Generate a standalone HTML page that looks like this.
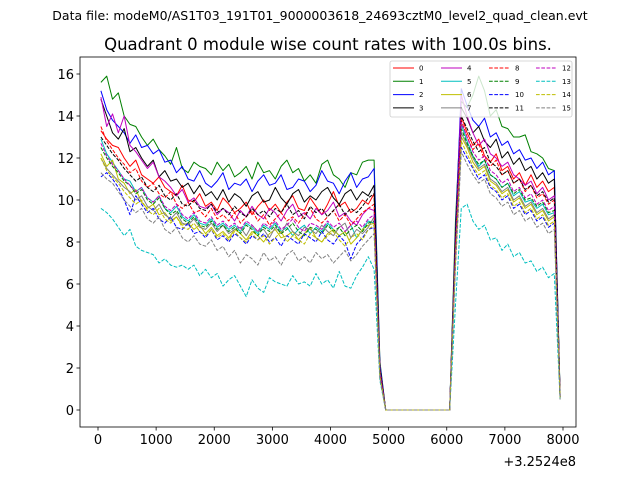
<!DOCTYPE html>
<html><head><meta charset="utf-8"><style>
body{margin:0;background:#fff;}
svg{display:block;font-family:"DejaVu Sans","Liberation Sans",sans-serif;}
</style></head><body>
<svg id="chart" width="640" height="480" viewBox="0 0 640 480">
<rect width="640" height="480" fill="#fff"/>
<text x="320" y="20" text-anchor="middle" font-size="12.5">Data file: modeM0/AS1T03_191T01_9000003618_24693cztM0_level2_quad_clean.evt</text>
<text x="328" y="50" text-anchor="middle" font-size="16.5">Quadrant 0 module wise count rates with 100.0s bins.</text>
<g id="plot"></g>
</svg>
<script>
const xTicks=[0,1000,2000,3000,4000,5000,6000,7000,8000];
const yTicks=[0,2,4,6,8,10,12,14,16];
const seriesNames=["0","1","2","3","4","5","6","7","8","9","10","11","12","13","14","15"];
const seriesColors=["#ff0000","#008000","#0000ff","#000000","#bf00bf","#00bfbf","#bfbf00","#808080","#ff0000","#008000","#0000ff","#000000","#bf00bf","#00bfbf","#bfbf00","#808080"];
const gapValues=[0,0,0,0,0,0,0,0,0,0,0,0];
const s0a=[13.3,12.9,12.6,12.5,12.0,11.6,11.9,11.2,11.0,10.8,11.1,10.6,10.4,10.2,10.7,10.0,9.9,10.3,9.7,9.9,9.5,10.1,9.8,9.4,9.6,9.9,9.3,9.7,10.0,9.5,9.8,9.4,9.9,10.2,9.6,9.5,10.1,9.7,9.3,9.8,10.4,9.7,9.9,9.4,9.6,10.0,9.8,10.3];
const s0b=[2.0,8.0,14.0,13.2,12.6,12.9,12.1,11.8,12.2,11.4,11.6,11.0,11.3,10.7,11.2,10.6,10.9,10.4,10.6,0.7];
const s1a=[15.6,15.9,14.8,15.1,14.0,13.6,13.5,13.0,12.6,12.9,12.4,12.1,11.7,12.5,11.5,11.3,11.8,11.6,11.5,11.2,11.8,11.4,11.7,11.1,11.3,11.6,11.0,11.8,11.3,11.4,11.0,11.6,11.9,11.3,11.5,10.9,11.2,10.8,11.7,11.9,11.2,11.0,10.6,11.3,11.2,11.8,11.9,11.9];
const s1b=[2.3,9.0,14.7,14.4,15.0,15.9,15.2,14.0,14.3,13.5,13.4,13.0,13.0,13.1,12.3,12.2,12.0,11.5,11.4,0.8];
const s2a=[15.2,14.3,13.8,13.5,13.2,12.7,13.1,12.5,12.6,12.2,12.4,11.8,11.9,11.3,11.6,11.0,10.9,11.4,10.8,10.6,10.9,11.3,10.5,10.8,10.7,11.0,10.4,10.9,11.2,10.7,10.8,11.2,10.5,10.6,11.0,10.9,10.4,10.7,11.4,10.9,10.8,10.3,10.9,11.3,10.6,11.0,11.1,11.5];
const s2b=[2.2,8.5,15.3,14.5,13.8,13.5,13.9,13.0,13.2,12.6,12.8,12.2,12.4,11.9,12.0,11.5,11.8,11.2,11.4,0.7];
const s3a=[14.8,14.0,13.2,12.9,13.4,12.3,12.5,12.0,11.6,11.9,11.1,11.4,10.9,11.0,10.6,10.8,10.3,10.7,10.2,10.4,10.0,10.5,9.9,10.3,10.1,9.7,10.2,10.4,9.9,10.0,10.6,10.1,9.8,10.3,10.5,9.9,10.2,10.0,10.4,10.6,10.1,9.8,10.3,10.5,10.0,10.4,10.2,10.7];
const s3b=[2.0,8.3,14.4,13.9,13.2,13.5,12.8,12.5,12.9,12.0,12.3,11.7,12.0,11.4,11.6,11.0,11.3,10.8,11.0,0.7];
const s4a=[14.9,13.5,14.1,13.2,14.0,12.6,12.3,11.9,11.5,11.8,11.1,10.9,10.6,10.2,10.5,9.9,10.1,9.7,9.6,9.8,9.3,9.6,9.4,9.0,9.5,9.2,9.7,9.3,9.1,9.6,9.4,9.0,9.5,9.8,9.2,9.4,9.1,9.6,9.3,9.5,9.9,9.2,9.4,9.0,8.8,9.3,9.6,9.5];
const s4b=[1.9,7.8,15.0,14.0,13.2,12.6,12.9,12.2,12.0,11.6,11.8,11.2,11.0,10.7,10.9,10.3,10.6,10.0,10.2,0.6];
const s5a=[12.9,12.2,11.8,11.4,11.0,10.9,10.4,10.6,10.1,9.9,10.2,9.6,9.4,9.7,9.2,9.0,9.3,8.9,8.8,9.1,8.7,8.9,8.6,8.8,8.5,8.9,8.7,8.4,8.8,8.6,8.9,8.5,8.7,8.3,8.6,8.8,8.4,8.7,8.5,8.9,8.6,8.3,8.5,8.8,8.2,8.6,9.0,8.9];
const s5b=[1.7,7.5,13.6,12.8,12.1,11.6,11.9,11.2,11.0,10.6,10.8,10.2,10.4,9.9,10.0,9.6,9.8,9.3,9.4,0.6];
const s6a=[12.2,11.6,11.9,11.0,10.8,10.3,10.5,9.9,9.6,9.8,9.3,9.4,9.0,9.2,8.8,8.9,8.6,8.8,8.4,8.7,8.3,8.5,8.2,8.6,8.4,8.1,8.5,8.3,8.0,8.4,8.6,8.2,8.3,8.5,8.1,8.4,8.7,8.2,8.0,8.4,8.6,8.3,8.5,7.9,8.2,8.6,8.8,8.9];
const s6b=[1.7,7.2,13.0,12.5,11.8,11.4,11.6,10.9,10.7,10.3,10.5,9.9,10.1,9.6,9.8,9.3,9.5,9.0,9.2,0.6];
const s7a=[12.0,11.5,11.2,10.9,10.6,10.4,10.0,10.2,9.7,9.5,9.8,9.3,9.1,9.4,8.9,8.8,9.1,8.7,8.6,8.9,8.5,8.8,8.4,8.6,8.7,8.3,8.8,8.5,8.6,8.2,8.7,8.4,8.9,8.5,8.3,8.7,8.6,8.4,8.8,8.5,8.3,8.7,8.9,8.2,8.6,8.4,8.7,9.2];
const s7b=[1.8,7.4,13.2,12.6,12.0,11.5,11.7,11.0,10.8,10.4,10.6,10.0,10.2,9.7,9.9,9.4,9.6,9.1,9.3,0.6];
const s8a=[13.5,12.8,12.4,12.0,11.7,11.3,11.5,10.9,10.6,10.8,10.3,10.1,10.4,9.8,9.6,9.9,9.4,9.5,9.2,9.6,9.1,9.3,9.0,9.4,8.9,9.2,9.5,9.0,9.3,8.8,9.1,9.4,9.0,9.2,8.9,9.3,9.6,9.1,8.9,9.2,9.5,9.0,9.3,8.8,9.1,9.4,9.6,9.8];
const s8b=[1.9,7.7,13.8,13.0,12.4,12.7,11.9,11.6,11.9,11.2,11.4,10.8,11.0,10.4,10.7,10.1,10.3,9.8,10.0,0.6];
const s9a=[12.5,12.0,11.6,11.3,10.9,10.7,10.3,10.5,10.0,9.8,10.1,9.6,9.3,9.5,9.1,8.9,9.2,8.8,8.7,9.0,8.6,8.8,8.5,8.7,8.4,8.8,8.6,8.3,8.7,8.5,8.8,8.4,8.6,8.9,8.5,8.3,8.7,8.6,8.4,8.8,8.5,8.7,8.3,8.6,8.8,8.5,8.9,9.0];
const s9b=[1.8,7.5,13.4,12.7,12.1,11.7,11.9,11.2,11.0,10.6,10.8,10.3,10.5,10.0,10.1,9.7,9.9,9.4,9.5,0.6];
const s10a=[11.1,11.3,11.0,10.6,10.0,9.3,10.2,9.8,9.4,9.6,9.1,8.9,9.2,8.7,8.6,8.9,8.4,8.5,8.2,8.6,8.1,8.3,8.0,8.4,8.2,7.9,8.3,8.1,8.4,8.0,8.2,7.8,8.3,8.1,7.9,8.4,8.2,8.0,8.5,8.1,7.9,8.3,8.0,7.2,7.9,8.2,8.6,8.7];
const s10b=[1.6,7.0,12.5,12.0,11.5,11.0,11.2,10.6,10.4,10.0,10.2,9.6,9.8,9.3,9.5,9.0,9.2,8.7,8.9,0.6];
const s11a=[13.0,12.6,12.2,11.9,11.5,11.2,10.9,11.1,10.6,10.4,10.7,10.2,10.0,10.3,9.8,9.7,10.0,9.6,9.5,9.8,9.4,9.6,9.3,9.7,9.4,9.2,9.6,9.3,9.5,9.2,9.6,9.4,9.8,9.3,9.5,9.1,9.7,9.4,9.6,9.2,9.5,9.8,9.3,9.6,9.4,9.7,10.1,10.3];
const s11b=[2.0,8.0,14.0,13.4,12.8,12.3,12.5,11.8,11.6,11.2,11.4,10.8,11.0,10.5,10.7,10.2,10.4,9.9,10.1,0.6];
const s12a=[12.7,12.1,11.7,11.4,11.0,10.7,10.4,10.6,10.1,9.9,10.2,9.7,9.5,9.8,9.3,9.1,9.4,9.0,8.9,9.2,8.8,9.0,8.7,8.9,8.6,9.0,8.8,8.5,8.9,8.7,9.0,8.6,8.8,9.1,8.7,8.5,8.9,8.8,8.6,9.0,8.7,8.9,8.5,8.8,9.0,8.7,9.1,9.3];
const s12b=[1.8,7.6,13.7,13.0,12.3,11.9,12.1,11.4,11.2,10.8,11.0,10.4,10.6,10.1,10.3,9.8,10.0,9.5,9.7,0.6];
const s13a=[9.6,9.4,9.1,8.7,8.3,8.6,7.8,7.6,7.5,7.4,7.0,7.2,6.9,6.8,6.9,6.7,6.9,6.4,6.7,6.3,6.5,5.9,6.2,6.4,5.9,5.4,6.2,5.8,5.6,6.3,6.1,6.0,5.9,6.4,6.0,6.1,5.9,6.5,6.0,6.2,5.8,6.6,5.9,5.8,6.4,6.8,7.3,6.7];
const s13b=[1.4,5.0,9.6,9.8,9.0,8.6,8.8,8.1,8.2,7.6,7.9,7.3,7.5,7.0,7.1,6.6,6.8,6.3,6.5,0.5];
const s14a=[12.0,11.4,11.1,10.8,10.4,10.1,9.8,10.0,9.5,9.3,9.6,9.1,8.9,9.2,8.7,8.6,8.9,8.5,8.3,8.6,8.2,8.4,8.1,8.5,8.2,8.0,8.4,8.1,8.3,7.9,8.2,8.5,8.0,8.3,8.1,7.9,8.4,8.2,8.0,8.3,8.5,8.1,7.8,8.2,8.4,8.1,8.6,8.8];
const s14b=[1.6,7.1,12.8,12.2,11.6,11.2,11.4,10.7,10.5,10.1,10.3,9.7,9.9,9.4,9.6,9.1,9.3,8.8,9.0,0.6];
const s15a=[11.3,11.0,10.8,10.4,10.0,9.7,9.4,9.6,9.1,8.9,9.2,8.6,8.4,8.7,8.2,8.0,8.3,7.9,7.8,8.1,7.6,7.8,7.3,7.6,7.0,7.4,7.2,6.9,7.5,7.1,7.3,6.9,7.4,7.6,7.1,7.3,7.0,7.5,7.2,7.4,7.0,7.3,7.6,7.1,7.4,7.8,8.1,8.4];
const s15b=[1.5,6.8,12.3,11.7,11.2,10.8,11.0,10.3,10.1,9.7,9.9,9.3,9.5,9.0,9.2,8.7,8.9,8.4,8.6,0.5];

const segA=[s0a,s1a,s2a,s3a,s4a,s5a,s6a,s7a,s8a,s9a,s10a,s11a,s12a,s13a,s14a,s15a];
const segB=[s0b,s1b,s2b,s3b,s4b,s5b,s6b,s7b,s8b,s9b,s10b,s11b,s12b,s13b,s14b,s15b];

const NS="http://www.w3.org/2000/svg";
const L=80,R=576,T=57,B=427;
const xs=v=>98+v*0.058125;
const ys=v=>410-v*21;
const g=document.getElementById('plot');
function mk(tag,attrs,parent){const e=document.createElementNS(NS,tag);for(const k in attrs)e.setAttribute(k,attrs[k]);(parent||g).appendChild(e);return e;}

for(let s=0;s<16;s++){
  const vals=segA[s].concat([segB[s][0]],gapValues,segB[s].slice(1));
  const pts=vals.map((v,i)=>xs(50+100*i).toFixed(2)+","+ys(v).toFixed(2)).join(" ");
  const pl=mk('polyline',{points:pts,fill:'none',stroke:seriesColors[s],'stroke-width':1,'stroke-linejoin':'round'});
  if(s>=8)pl.setAttribute('stroke-dasharray','3.7,1.6');
  
  
}

const fr=mk('rect',{x:L,y:T,width:R-L,height:B-T,fill:'none',stroke:'#000','stroke-width':0.8});



xTicks.forEach(t=>{
  const x=xs(t);
  const tk=mk('line',{x1:x,x2:x,y1:B,y2:B+3.5,stroke:'#000','stroke-width':0.8});
  
  
  const lb=mk('text',{x:x,y:B+17,'text-anchor':'middle','font-size':13});
  lb.textContent=t;
  
  
});
yTicks.forEach(t=>{
  const y=ys(t);
  const tk=mk('line',{x1:L-3.5,x2:L,y1:y,y2:y,stroke:'#000','stroke-width':0.8});
  
  
  const lb=mk('text',{x:L-6,y:y+4.8,'text-anchor':'end','font-size':13});
  lb.textContent=t;
  
  
});
const off=mk('text',{x:576,y:466,'text-anchor':'end','font-size':13});
off.textContent='+3.2524e8';



const lg=mk('g',{});


const lb=mk('rect',{x:390,y:61,width:182,height:56,rx:2,fill:'#fff','fill-opacity':0.8,stroke:'#ccc','stroke-width':0.8},lg);


const colX=[393,441,489,536];
for(let s=0;s<16;s++){
  const c=Math.floor(s/4),r=s%4;
  const x=colX[c],y=68+r*13.3;
  const ln=mk('line',{x1:x,x2:x+21,y1:y,y2:y,stroke:seriesColors[s],'stroke-width':1},lg);
  if(s>=8)ln.setAttribute('stroke-dasharray','3.7,1.6');
  
  
  const tx=mk('text',{x:x+26,y:y+2.5,'font-size':7},lg);
  tx.textContent=seriesNames[s];
  
  
}
</script>
</body></html>
